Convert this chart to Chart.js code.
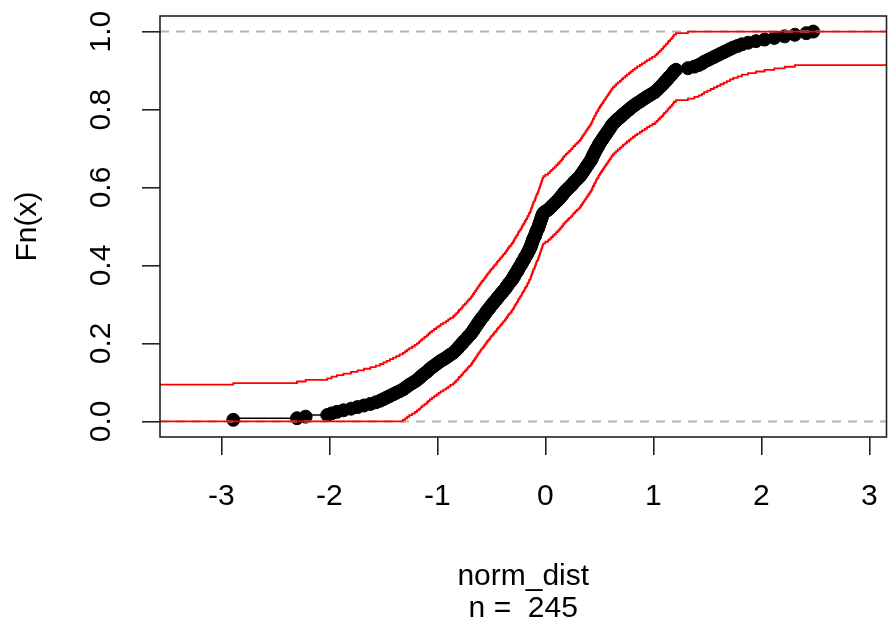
<!DOCTYPE html>
<html>
<head>
<meta charset="utf-8">
<script src="https://cdn.jsdelivr.net/npm/chart.js@4.4.0/dist/chart.umd.min.js"></script>
<style>
  html, body { margin: 0; padding: 0; background: #fff; }
</style>
</head>
<body>
<canvas id="grafEcdf" width="894" height="632"></canvas>
<script>
// sorted sample, 245 obs
const normDist = [
  -2.89, -2.30, -2.22, -2.02, -1.98, -1.93, -1.87, -1.80, -1.74, -1.68,
  -1.62, -1.57, -1.53, -1.50, -1.47, -1.44, -1.41, -1.38, -1.35, -1.32,
  -1.30, -1.28, -1.26, -1.235, -1.21, -1.19, -1.17, -1.155, -1.14, -1.12,
  -1.10, -1.085, -1.07, -1.05, -1.03, -1.01, -0.99, -0.97, -0.945, -0.92,
  -0.90, -0.88, -0.855, -0.84, -0.825, -0.81, -0.80, -0.785, -0.77, -0.76,
  -0.745, -0.73, -0.72, -0.705, -0.69, -0.68, -0.67, -0.66, -0.65, -0.64,
  -0.63, -0.62, -0.61, -0.60, -0.59, -0.575, -0.565, -0.555, -0.545, -0.535,
  -0.52, -0.51, -0.50, -0.485, -0.475, -0.46, -0.45, -0.44, -0.425, -0.415,
  -0.40, -0.39, -0.375, -0.365, -0.355, -0.345, -0.335, -0.32, -0.31, -0.30,
  -0.29, -0.285, -0.275, -0.265, -0.255, -0.25, -0.24, -0.23, -0.22, -0.215,
  -0.205, -0.195, -0.19, -0.18, -0.17, -0.165, -0.155, -0.15, -0.14, -0.135,
  -0.13, -0.125, -0.12, -0.115, -0.11, -0.10, -0.095, -0.09, -0.085, -0.08,
  -0.07, -0.065, -0.06, -0.055, -0.05, -0.045, -0.04, -0.035, -0.03, -0.025,
  -0.018, 0.00, 0.025, 0.04, 0.055, 0.07, 0.085, 0.10, 0.115, 0.13,
  0.14, 0.155, 0.165, 0.175, 0.19, 0.205, 0.22, 0.235, 0.25, 0.26,
  0.275, 0.29, 0.305, 0.32, 0.33, 0.34, 0.35, 0.36, 0.37, 0.38,
  0.39, 0.40, 0.41, 0.42, 0.428, 0.435, 0.44, 0.45, 0.455, 0.465,
  0.47, 0.48, 0.49, 0.495, 0.505, 0.515, 0.525, 0.535, 0.545, 0.555,
  0.565, 0.575, 0.585, 0.595, 0.605, 0.613, 0.625, 0.64, 0.655, 0.67,
  0.69, 0.705, 0.72, 0.74, 0.755, 0.775, 0.79, 0.81, 0.83, 0.85,
  0.875, 0.895, 0.92, 0.94, 0.965, 0.99, 1.014, 1.03, 1.045, 1.06,
  1.075, 1.09, 1.10, 1.115, 1.13, 1.14, 1.155, 1.17, 1.18, 1.19,
  1.21, 1.32, 1.38, 1.42, 1.45, 1.47, 1.50, 1.53, 1.56, 1.59,
  1.62, 1.65, 1.68, 1.71, 1.74, 1.78, 1.82, 1.877, 1.95, 2.03,
  2.12, 2.216, 2.31, 2.416, 2.48
];

const xTicks = [-3, -2, -1, 0, 1, 2, 3];
const yTicks = [0, 0.2, 0.4, 0.6, 0.8, 1.0];
const xLabel = 'norm_dist';
const yLabel = 'Fn(x)';

const n = normDist.length;
const subLabel = 'n =  ' + n;

// 95% Kolmogorov-Smirnov band half width
const ksD = 1.358 / (Math.sqrt(n) + 0.12 + 0.11 / Math.sqrt(n));

// x limits: data range + 8%, then the usual 4% axis extension
const lo = normDist[0], hi = normDist[n - 1];
const xPad = 0.08 * (hi - lo);
const xExt = 0.04 * (hi - lo + 2 * xPad);
const xMin = lo - xPad - xExt;
const xMax = hi + xPad + xExt;

const fuente = '"Liberation Sans", Arial, sans-serif';
const box = '#222';

function bandPoints(sign) {
  const clip = v => Math.min(1, Math.max(0, v));
  const pts = [{ x: xMin, y: clip(1 / n + sign * ksD) }];
  normDist.forEach((x, i) => {
    const k = Math.min(n, i + 2);
    pts.push({ x: x, y: clip(k / n + sign * ksD) });
  });
  pts.push({ x: xMax, y: pts[pts.length - 1].y });
  return pts;
}

const ecdfPts = normDist.map((x, i) => ({ x: x, y: (i + 1) / n }));

// caja y textos al estilo de R
const marco = {
  id: 'marco',
  afterDraw(chart) {
    const { ctx, chartArea: a, scales } = chart;
    ctx.save();
    ctx.strokeStyle = box;
    ctx.lineWidth = 1.6;
    ctx.strokeRect(a.left, a.top, a.right - a.left, a.bottom - a.top);

    ctx.fillStyle = '#000';
    ctx.font = '30px ' + fuente;
    ctx.textAlign = 'center';
    ctx.textBaseline = 'middle';

    yTicks.forEach(v => {
      const py = scales.y.getPixelForValue(v);
      ctx.save();
      ctx.translate(a.left - 58, py);
      ctx.rotate(-Math.PI / 2);
      ctx.fillText(v.toFixed(1), 0, 0);
      ctx.restore();
    });

    ctx.save();
    ctx.translate(28, (a.top + a.bottom) / 2);
    ctx.rotate(-Math.PI / 2);
    ctx.fillText(yLabel, 0, 0);
    ctx.restore();

    const cx = (a.left + a.right) / 2;
    ctx.fillText(xLabel, cx, a.bottom + 140);
    ctx.fillText(subLabel, cx, a.bottom + 172);
    ctx.restore();
  }
};

const cte = document.getElementById('grafEcdf').getContext('2d');

const grafEcdf = new Chart(cte, {
  type: 'scatter',
  data: {
    datasets: [
      {
        label: 'upper',
        data: bandPoints(1),
        showLine: true,
        stepped: 'after',
        borderColor: '#ff0000',
        borderWidth: 1.8,
        pointRadius: 0
      },
      {
        label: 'lower',
        data: bandPoints(-1),
        showLine: true,
        stepped: 'after',
        borderColor: '#ff0000',
        borderWidth: 1.8,
        pointRadius: 0
      },
      {
        label: 'h0',
        data: [{ x: xMin, y: 0 }, { x: xMax, y: 0 }],
        showLine: true,
        borderColor: '#b3b3b3',
        borderWidth: 2,
        borderDash: [9, 7],
        pointRadius: 0
      },
      {
        label: 'h1',
        data: [{ x: xMin, y: 1 }, { x: xMax, y: 1 }],
        showLine: true,
        borderColor: '#b3b3b3',
        borderWidth: 2,
        borderDash: [9, 7],
        pointRadius: 0
      },
      {
        label: 'Fn',
        data: ecdfPts,
        showLine: true,
        stepped: 'after',
        borderColor: '#000',
        borderWidth: 1.5,
        pointRadius: 6.5,
        pointBorderWidth: 1,
        pointBackgroundColor: '#000',
        pointBorderColor: '#000'
      }
    ]
  },
  options: {
    responsive: false,
    animation: false,
    layout: { padding: { top: 16, right: 0, left: 0, bottom: 0 } },
    plugins: {
      legend: { display: false },
      tooltip: { enabled: false }
    },
    scales: {
      x: {
        type: 'linear',
        min: xMin,
        max: xMax,
        afterBuildTicks: s => { s.ticks = xTicks.map(v => ({ value: v })); },
        afterFit: s => { s.height = 195; s.paddingLeft = 0; s.paddingRight = 0; },
        border: { display: false },
        grid: { drawOnChartArea: false, drawTicks: true, tickLength: 18, color: box, lineWidth: 1.6 },
        ticks: {
          autoSkip: false,
          maxRotation: 0,
          padding: 24,
          color: '#000',
          font: { family: fuente, size: 30 },
          callback: v => String(v)
        }
      },
      y: {
        type: 'linear',
        min: -0.04,
        max: 1.04,
        afterBuildTicks: s => { s.ticks = yTicks.map(v => ({ value: v })); },
        afterFit: s => { s.width = 160; s.paddingTop = 0; s.paddingBottom = 0; },
        border: { display: false },
        grid: { drawOnChartArea: false, drawTicks: true, tickLength: 18, color: box, lineWidth: 1.6 },
        ticks: { display: false }
      }
    }
  },
  plugins: [marco]
});
</script>
</body>
</html>
